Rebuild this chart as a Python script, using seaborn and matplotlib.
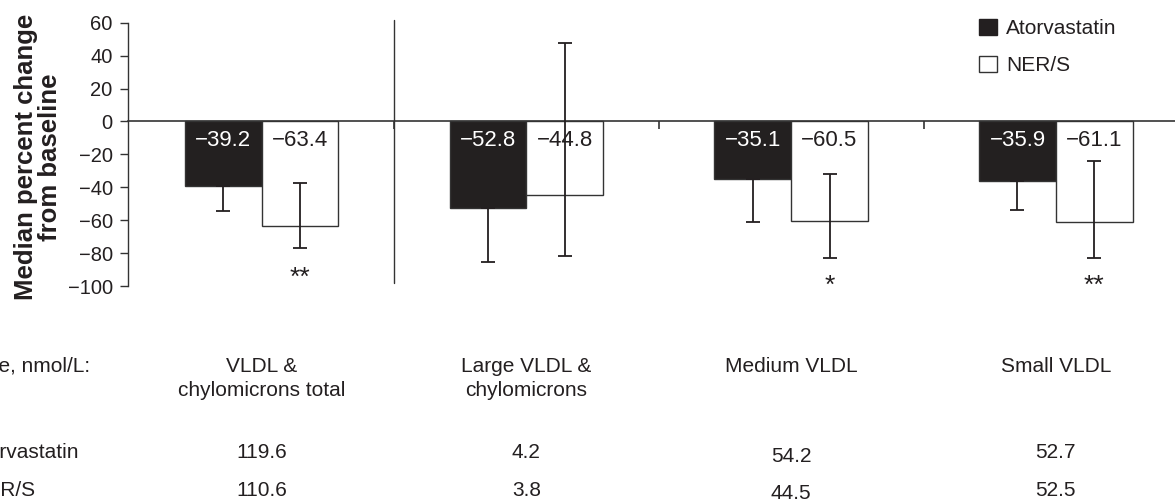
import numpy as np
import pandas as pd
import matplotlib
matplotlib.use("Agg")
import matplotlib.pyplot as plt
import matplotlib.transforms as mtransforms
from matplotlib.patches import Patch
import seaborn as sns

# ---------------- data ----------------
categories = ["VLDL &\nchylomicrons total", "Large VLDL &\nchylomicrons",
              "Medium VLDL", "Small VLDL"]
treatments = ["Atorvastatin", "NER/S"]
atorva_median = [-39.2, -52.8, -35.1, -35.9]
ners_median = [-63.4, -44.8, -60.5, -61.1]
atorva_low = [-54.5, -85.3, -61.3, -53.9]
atorva_high = [-39.2, -52.8, -35.1, -35.9]
ners_low = [-77.2, -81.6, -82.8, -82.8]
ners_high = [-37.3, 47.8, -32.2, -24.1]
significance = ["**", "", "*", "**"]
baseline_header = "Baseline value, nmol/L:"
baseline_atorva = ["119.6", "4.2", "54.2", "52.7"]
baseline_ners = ["110.6", "3.8", "44.5", "52.5"]
yticks = [-100, -80, -60, -40, -20, 0, 20, 40, 60]

DARK = "#231f20"
TXT = "#231f20"

sns.set_style("white")
plt.rcParams["font.family"] = ["Liberation Sans", "DejaVu Sans"]
plt.rcParams["axes.unicode_minus"] = True

df = pd.DataFrame({
    "category": categories * 2,
    "treatment": [treatments[0]] * 4 + [treatments[1]] * 4,
    "value": atorva_median + ners_median,
    "low": atorva_low + ners_low,
    "high": atorva_high + ners_high,
})

W, H = 1175, 499
fig = plt.figure(figsize=(W / 100, H / 100), dpi=100)
ax = fig.add_axes([128 / W, 1 - 286 / H, 1 - 128 / W, (286 - 22.7) / H])

sns.barplot(data=df, x="category", y="value", hue="treatment",
            order=categories, hue_order=treatments,
            palette=[DARK, "white"], width=0.58, edgecolor="#333333",
            linewidth=1.0, errorbar=None, legend=False, ax=ax, zorder=2)

ax.set_ylim(-100, 60)
ax.set_xlim(-0.505, 3.45)
ax.set_yticks(yticks)
ax.tick_params(axis="y", direction="out", length=5.5, width=1.0, color="#333333",
               labelsize=14.5, labelcolor=TXT, pad=5.5, left=True)
for s in ["top", "right"]:
    ax.spines[s].set_visible(False)
ax.spines["left"].set_color("#333333")
ax.spines["left"].set_linewidth(1.0)
ax.spines["bottom"].set_position(("data", 0))
ax.spines["bottom"].set_color("#333333")
ax.spines["bottom"].set_linewidth(1.2)
ax.set_xticks([0.5, 1.5, 2.5])
ax.set_xticklabels([])
ax.tick_params(axis="x", direction="out", length=6, width=1.2, color="#333333", bottom=True)
ax.set_xlabel("")
ax.set_ylabel("Median percent change\nfrom baseline", fontsize=18.5, fontweight="bold",
              color=TXT, va="center", linespacing=1.0)
ax.yaxis.set_label_coords(-0.086, 0.49)

# separator after first group
ax.axvline(0.5, ymin=(-98.2 + 100) / 160, ymax=(61.6 + 100) / 160,
           color="#333333", lw=1.0, clip_on=False, zorder=1)

# bar centers from the drawn patches
patches = [p for p in ax.patches if p.get_height() != 0]
centers = {}
for p in patches:
    cx = p.get_x() + p.get_width() / 2
    idx = int(round(cx))
    h = 0 if cx < idx else 1
    centers[(idx, h)] = cx

for h, (vals, lows, highs) in enumerate([(atorva_median, atorva_low, atorva_high),
                                          (ners_median, ners_low, ners_high)]):
    xs = [centers[(i, h)] for i in range(4)]
    v = np.array(vals)
    err = [v - np.array(lows), np.array(highs) - v]
    ax.errorbar(xs, v, yerr=err, fmt="none", ecolor="#231f20", elinewidth=1.3,
                capsize=5, capthick=1.3, zorder=3)
    for i, val in enumerate(vals):
        ax.text(xs[i], -11.3, f"{val:.1f}".replace("-", "\u2212"),
                ha="center", va="center", fontsize=16,
                color="white" if h == 0 else TXT, zorder=4)

for i, s in enumerate(significance):
    if s:
        y = -99.2 if i == 0 else -104
        ax.text(centers[(i, 1)], y, s, ha="center", va="baseline",
                fontsize=19, color=TXT, clip_on=False)

# legend
handles = [Patch(facecolor=DARK, edgecolor=DARK, label=treatments[0]),
           Patch(facecolor="white", edgecolor="#333333", lw=1.0, label=treatments[1])]
fig.legend(handles=handles, loc="upper left", bbox_to_anchor=(979 / W, 1 - 19 / H),
           frameon=False, fontsize=15, handlelength=0.85, handleheight=0.8,
           handletextpad=0.45, labelspacing=0.85, borderpad=0, borderaxespad=0,
           labelcolor=TXT)

# baseline table below the chart
tr = mtransforms.blended_transform_factory(ax.transData, fig.transFigure)
fig.text(90 / W, 1 - 372 / H, baseline_header, ha="right", va="baseline",
         fontsize=15, color=TXT)
for i, c in enumerate(categories):
    ax.text(i, 1 - 357 / H, c, transform=tr, ha="center", va="top", fontsize=15,
            color=TXT, linespacing=1.35, multialignment="center")
nudge = [0, 0, 4, 0]
for i in range(4):
    ax.text(i, 1 - (457.5 + nudge[i]) / H, baseline_atorva[i], transform=tr,
            ha="center", va="baseline", fontsize=15, color=TXT)
    ax.text(i, 1 - (496.5 + nudge[i] * 0.6) / H, baseline_ners[i], transform=tr,
            ha="center", va="baseline", fontsize=15, color=TXT)
fig.text(-31 / W, 1 - 457.5 / H, treatments[0], ha="left", va="baseline",
         fontsize=15, color=TXT)
fig.text(-29 / W, 1 - 496.5 / H, treatments[1], ha="left", va="baseline",
         fontsize=15, color=TXT)

fig.savefig("out.png", dpi=100)
